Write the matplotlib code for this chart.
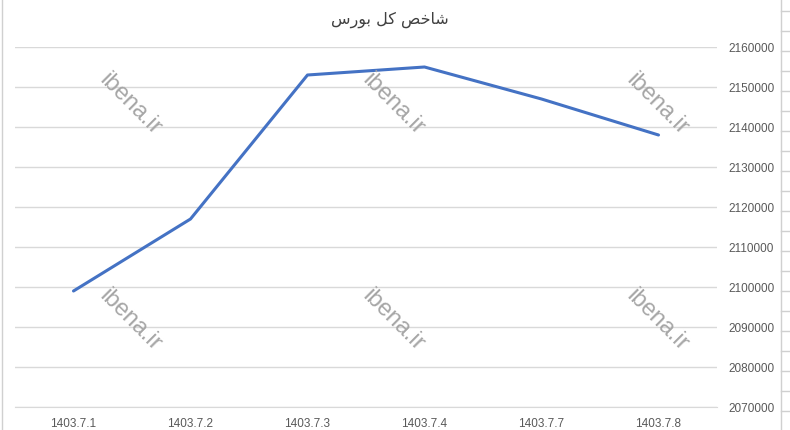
import matplotlib.pyplot as plt
from matplotlib.lines import Line2D

# data
dates = ['1403.7.1', '1403.7.2', '1403.7.3', '1403.7.4', '1403.7.7', '1403.7.8']
index_values = [2099000, 2117000, 2153000, 2155000, 2147000, 2138000]
y_ticks = list(range(2070000, 2160001, 10000))

# title "شاخص کل بورس" written in shaped presentation forms (visual order),
# because matplotlib does no Arabic shaping on its own
title = '\uFEB1\uFEAD\uFEEE\uFE91 \uFEDE\uFB90 \uFEBA\uFEA7\uFE8E\uFEB7'

grid_color = '#d9d9d9'
text_color = '#595959'

fig = plt.figure(figsize=(7.9, 4.3), dpi=100)
ax = fig.add_axes([15 / 790, 23 / 430, 702 / 790, 360 / 430])

x = list(range(len(dates)))
ax.plot(x, index_values, color='#4472C4', linewidth=2.2, solid_capstyle='round', zorder=3)

ax.set_xlim(-0.5, len(dates) - 0.5)
ax.set_ylim(y_ticks[0], y_ticks[-1])
ax.set_yticks(y_ticks)
ax.set_yticklabels([str(v) for v in y_ticks])
ax.set_xticks(x)
ax.set_xticklabels(dates)

ax.yaxis.tick_right()
ax.grid(axis='y', color=grid_color, linewidth=1)
ax.set_axisbelow(True)
for side in ['top', 'left', 'right']:
    ax.spines[side].set_visible(False)
ax.spines['bottom'].set_color(grid_color)
ax.tick_params(axis='both', length=0, labelsize=8.5, labelcolor=text_color)
ax.tick_params(axis='x', pad=8)
ax.tick_params(axis='y', pad=8)
for lbl in ax.get_xticklabels() + ax.get_yticklabels():
    lbl.set_fontfamily('Liberation Sans')

fig.text(0.494, 1 - 20 / 430, title, ha='center', va='center', fontsize=11.5,
         color='#404040', family=['DejaVu Sans'])

# watermarks
for wx in [130, 393, 657]:
    for wy in [104, 320]:
        fig.text(wx / 790, 1 - wy / 430, 'ibena.ir', rotation=-45, ha='center', va='center',
                 fontsize=17, color='#a6a6a6', family='Liberation Sans', zorder=1)

# sheet grid remnants at the edges
fig.add_artist(Line2D([781 / 790, 781 / 790], [0, 1], color='#d0d0d0', linewidth=1))
fig.add_artist(Line2D([1.5 / 790, 1.5 / 790], [0, 1], color='#d0d0d0', linewidth=1))
for ry in range(11, 430, 20):
    fig.add_artist(Line2D([781 / 790, 1], [1 - ry / 430, 1 - ry / 430], color='#d0d0d0', linewidth=1))

fig.savefig('out.png', dpi=100, facecolor='white')
